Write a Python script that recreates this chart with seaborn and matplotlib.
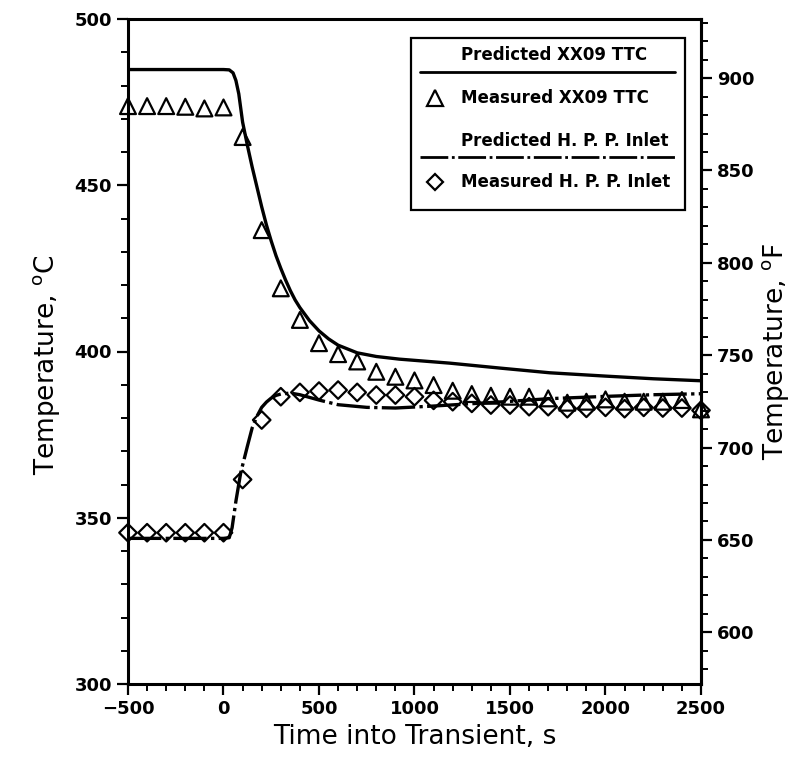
import matplotlib
matplotlib.use("Agg")
import matplotlib.pyplot as plt
from matplotlib.patches import Rectangle
from matplotlib.lines import Line2D
from matplotlib.ticker import MultipleLocator, FixedLocator
import seaborn as sns

# Predicted XX09 TTC temperature (deg C) vs time into transient (s)
pred_ttc_t = [-500, 0, 30, 50, 65, 80, 100, 125, 150, 175, 200, 225, 250,
              275, 300, 325, 350, 375, 400, 450, 500, 550, 600, 700, 800,
              921, 1184, 1450, 1708, 2000, 2250, 2500]
pred_ttc_T = [484.8, 484.8, 484.7, 483.8, 481.5, 477.5, 469.0, 462.0, 455.5,
              449.5, 443.5, 438.0, 433.2, 428.8, 425.0, 421.5, 418.3, 415.5,
              413.2, 409.3, 406.2, 403.8, 401.9, 399.6, 398.5, 397.7, 396.5,
              395.0, 393.6, 392.6, 391.8, 391.2]

# Predicted H.P.P. inlet temperature (deg C)
pred_hpp_t = [-500, 0, 30, 45, 65, 90, 125, 150, 175, 200, 225, 250, 275,
              300, 350, 400, 500, 600, 750, 900, 1100, 1300, 1500, 1700,
              2000, 2250, 2500]
pred_hpp_T = [343.8, 343.8, 344.0, 347.0, 355.0, 363.5, 371.5, 377.0, 380.5,
              383.2, 384.8, 386.0, 386.8, 387.2, 387.5, 387.0, 385.4, 384.0,
              383.2, 383.0, 383.6, 384.3, 385.0, 385.8, 386.5, 387.0, 387.3]

# Measured values, sampled every 100 s
meas_t = list(range(-500, 2501, 100))
meas_ttc_T = [473.8, 473.8, 473.8, 473.6, 473.1, 473.4, 464.5, 436.5, 419.0,
              409.5, 402.5, 399.2, 397.0, 393.9, 392.4, 391.3, 389.9, 388.2,
              387.2, 386.7, 386.4, 386.4, 385.9, 384.6, 384.9, 385.6, 384.9,
              384.9, 384.9, 385.4, 382.6]
meas_hpp_T = [345.5, 345.5, 345.5, 345.5, 345.5, 345.5, 361.5, 379.4, 386.4,
              387.7, 388.1, 388.4, 387.7, 386.9, 386.9, 386.4, 385.3, 384.9,
              384.4, 383.9, 383.9, 383.4, 383.4, 382.8, 382.9, 383.2, 382.8,
              383.2, 383.0, 383.0, 382.3]

fahrenheit_ticks = [600, 650, 700, 750, 800, 850, 900]

legend_labels = ["Predicted XX09 TTC", "Measured XX09 TTC",
                 "Predicted H. P. P. Inlet", "Measured H. P. P. Inlet"]

sns.set_style("ticks")
plt.rcParams["font.family"] = ["DejaVu Sans"]
plt.rcParams.update({"text.color": "black", "axes.labelcolor": "black",
                     "xtick.color": "black", "ytick.color": "black",
                     "axes.edgecolor": "black"})

fig = plt.figure(figsize=(8.04, 7.57), dpi=100)
ax = fig.add_axes([128 / 804, 73 / 757, 573 / 804, 665 / 757])

hpp_dash = (0, (10, 1.3, 1.0, 1.3))

sns.lineplot(x=pred_ttc_t, y=pred_ttc_T, ax=ax, color="black", lw=2.4,
             sort=False, estimator=None)
sns.lineplot(x=pred_hpp_t, y=pred_hpp_T, ax=ax, color="black", lw=2.4,
             sort=False, estimator=None, linestyle=hpp_dash)
sns.scatterplot(x=meas_t, y=meas_ttc_T, ax=ax, marker="^", s=130,
                facecolor="none", edgecolor="black", linewidth=1.6,
                clip_on=False, zorder=4)
sns.scatterplot(x=meas_t, y=meas_hpp_T, ax=ax, marker="D", s=80,
                facecolor="none", edgecolor="black", linewidth=1.6,
                clip_on=False, zorder=4)

ax.set_xlim(-500, 2500)
ax.set_ylim(300, 500)
ax.xaxis.set_major_locator(MultipleLocator(500))
ax.xaxis.set_minor_locator(MultipleLocator(100))
ax.yaxis.set_major_locator(MultipleLocator(50))
ax.yaxis.set_minor_locator(MultipleLocator(10))
ax.tick_params(which="major", direction="out", length=8, width=1.6,
               labelsize=13)
ax.tick_params(which="minor", direction="out", length=5, width=1.4)
ax.tick_params(axis="y", right=False)
for lab in ax.get_xticklabels() + ax.get_yticklabels():
    lab.set_fontweight("bold")
for side in ["left", "right", "top", "bottom"]:
    ax.spines[side].set_visible(True)
    ax.spines[side].set_linewidth(2.2)
    ax.spines[side].set_color("black")

ax.set_xlabel("Time into Transient, s", fontsize=19, labelpad=4)
ax.set_ylabel(r"Temperature, $^{\mathrm{o}}$C", fontsize=19, labelpad=6)
ax.yaxis.set_label_coords(-0.115, 0.48)

# Fahrenheit scale on the right
sec = ax.secondary_yaxis("right", functions=(lambda c: c * 1.8 + 32,
                                              lambda f: (f - 32) / 1.8))
sec.yaxis.set_major_locator(FixedLocator(fahrenheit_ticks))
sec.yaxis.set_minor_locator(FixedLocator(list(range(580, 931, 10))))
sec.tick_params(which="major", direction="out", length=8, width=1.6,
                labelsize=13)
sec.tick_params(which="minor", direction="out", length=5, width=1.4)
for lab in sec.get_yticklabels():
    lab.set_fontweight("bold")
sec.spines["right"].set_linewidth(2.2)
sec.set_ylabel(r"Temperature, $^{\mathrm{o}}$F", fontsize=19, labelpad=4)

# Legend box drawn in axes coordinates
tr = ax.transAxes
ax.add_patch(Rectangle((0.494, 0.713), 0.478, 0.258, transform=tr,
                       facecolor="white", edgecolor="black", lw=1.6,
                       zorder=5))
txt_x = 0.582
kw = dict(transform=tr, fontsize=12, fontweight="bold", va="center",
          ha="left", zorder=6)
ax.text(txt_x, 0.946, legend_labels[0], **kw)
ax.add_line(Line2D([0.510, 0.955], [0.920, 0.920], transform=tr,
                   color="black", lw=2.0, zorder=6))
ax.text(txt_x, 0.881, legend_labels[1], **kw)
ax.add_line(Line2D([0.536], [0.881], transform=tr, marker="^", ms=11,
                   mfc="none", mec="black", mew=1.6, ls="none", zorder=6))
ax.text(txt_x, 0.816, legend_labels[2], **kw)
ax.add_line(Line2D([0.510, 0.955], [0.793, 0.793], transform=tr,
                   color="black", lw=2.0, ls=hpp_dash, zorder=6))
ax.text(txt_x, 0.755, legend_labels[3], **kw)
ax.add_line(Line2D([0.536], [0.755], transform=tr, marker="D", ms=8,
                   mfc="none", mec="black", mew=1.6, ls="none", zorder=6))

fig.savefig("out.png", dpi=100, facecolor="white")
